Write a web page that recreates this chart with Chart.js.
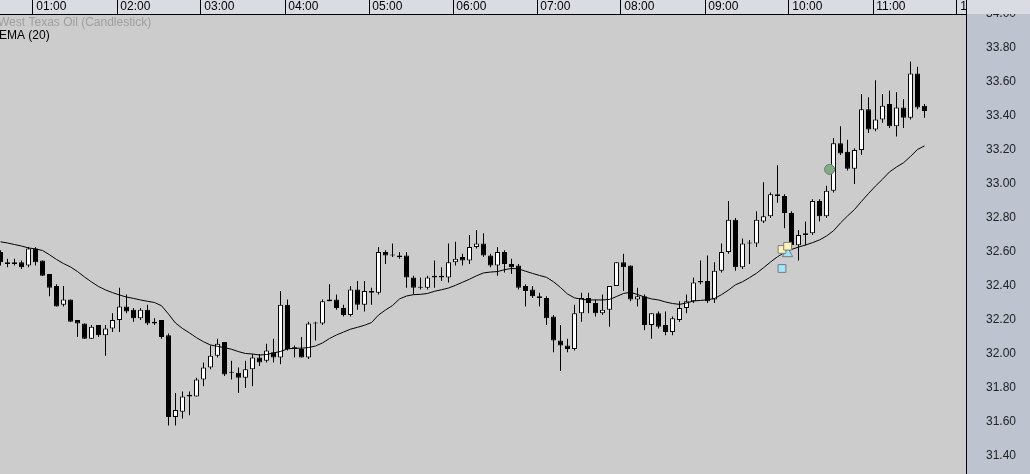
<!DOCTYPE html>
<html lang="en">
<head>
<meta charset="UTF-8">
<title>West Texas Oil (Candlestick)</title>
<style>
  html, body { margin: 0; padding: 0; background: #cccccc; }
  #wrap { width: 1030px; height: 474px; position: relative; }
</style>
</head>
<body>
<div id="wrap"><canvas id="myChart"></canvas></div>

<script src="https://cdn.jsdelivr.net/npm/chart.js"></script>
<script>
// 5 minute bars, first one stamped 00:35
const firstBar = 35;      // minutes after midnight
const barMinutes = 5;

const open = [
  32.60, 32.54, 32.54, 32.54, 32.52, 32.62, 32.55, 32.47, 32.40, 32.29,
  32.32, 32.20, 32.18, 32.09, 32.17, 32.11, 32.15, 32.20, 32.28, 32.26,
  32.21, 32.26, 32.18, 32.20, 32.11, 31.63, 31.66, 31.75, 31.75, 31.85,
  31.92, 31.99, 32.07, 31.89, 31.89, 31.86, 31.91, 31.98, 31.96, 32.01,
  31.98, 32.29, 32.04, 32.03, 31.98, 32.18, 32.18, 32.32, 32.32, 32.27,
  32.23, 32.38, 32.29, 32.37, 32.36, 32.60, 32.58, 32.58, 32.58, 32.45,
  32.39, 32.39, 32.46, 32.46, 32.45, 32.54, 32.57, 32.55, 32.63, 32.65,
  32.58, 32.52, 32.60, 32.53, 32.52, 32.40, 32.38, 32.34, 32.33, 32.22,
  32.08, 32.05, 32.03, 32.24, 32.33, 32.30, 32.24, 32.26, 32.40, 32.54,
  32.52, 32.32, 32.34, 32.17, 32.24, 32.17, 32.13, 32.20, 32.27, 32.31,
  32.43, 32.43, 32.32, 32.49, 32.60, 32.79, 32.51, 32.65, 32.65, 32.78,
  32.81, 32.94, 32.93, 32.83, 32.64, 32.70, 32.71, 32.90, 32.81, 32.96,
  33.24, 33.19, 33.09, 33.20, 33.44, 33.32, 33.38, 33.47, 33.34, 33.45,
  33.39, 33.65, 33.46
];
const high = [
  32.61, 32.56, 32.56, 32.55, 32.63, 32.63, 32.55, 32.47, 32.41, 32.40,
  32.32, 32.20, 32.18, 32.17, 32.17, 32.17, 32.24, 32.39, 32.35, 32.27,
  32.27, 32.29, 32.21, 32.20, 32.12, 31.77, 31.78, 31.78, 31.86, 31.95,
  32.05, 32.09, 32.07, 31.96, 31.92, 31.96, 32.00, 32.00, 32.06, 32.09,
  32.37, 32.32, 32.05, 32.10, 32.19, 32.19, 32.32, 32.41, 32.35, 32.29,
  32.40, 32.43, 32.43, 32.39, 32.63, 32.61, 32.65, 32.60, 32.60, 32.46,
  32.45, 32.46, 32.55, 32.51, 32.65, 32.66, 32.59, 32.70, 32.73, 32.71,
  32.59, 32.63, 32.61, 32.56, 32.53, 32.41, 32.40, 32.36, 32.34, 32.23,
  32.17, 32.09, 32.29, 32.36, 32.36, 32.32, 32.35, 32.40, 32.54, 32.59,
  32.52, 32.39, 32.35, 32.24, 32.25, 32.25, 32.22, 32.31, 32.35, 32.45,
  32.55, 32.58, 32.54, 32.65, 32.90, 32.80, 32.68, 32.67, 32.84, 33.01,
  32.95, 33.11, 32.94, 32.84, 32.73, 32.78, 32.91, 32.91, 32.99, 33.27,
  33.34, 33.26, 33.21, 33.53, 33.51, 33.61, 33.53, 33.55, 33.54, 33.50,
  33.72, 33.69, 33.47
];
const low = [
  32.52, 32.51, 32.52, 32.50, 32.51, 32.52, 32.46, 32.34, 32.28, 32.28,
  32.19, 32.10, 32.09, 32.09, 32.10, 31.99, 32.13, 32.13, 32.24, 32.19,
  32.20, 32.17, 32.17, 32.09, 31.58, 31.58, 31.62, 31.64, 31.75, 31.81,
  31.91, 31.98, 31.87, 31.85, 31.77, 31.80, 31.81, 31.93, 31.95, 31.95,
  31.94, 32.02, 31.98, 31.98, 31.97, 32.08, 32.17, 32.31, 32.26, 32.22,
  32.22, 32.26, 32.25, 32.29, 32.35, 32.53, 32.57, 32.56, 32.39, 32.35,
  32.38, 32.38, 32.39, 32.43, 32.42, 32.52, 32.52, 32.53, 32.62, 32.57,
  32.51, 32.46, 32.48, 32.47, 32.38, 32.28, 32.33, 32.28, 32.17, 32.01,
  31.90, 32.01, 32.02, 32.19, 32.24, 32.22, 32.23, 32.16, 32.40, 32.37,
  32.31, 32.28, 32.14, 32.09, 32.15, 32.11, 32.11, 32.19, 32.24, 32.30,
  32.41, 32.30, 32.30, 32.48, 32.59, 32.49, 32.50, 32.53, 32.63, 32.77,
  32.80, 32.89, 32.74, 32.62, 32.55, 32.64, 32.70, 32.78, 32.80, 32.95,
  33.17, 33.08, 33.00, 33.17, 33.30, 33.31, 33.36, 33.33, 33.28, 33.33,
  33.38, 33.44, 33.39
];
const close = [
  32.54, 32.53, 32.53, 32.51, 32.62, 32.54, 32.46, 32.39, 32.28, 32.32,
  32.19, 32.18, 32.09, 32.16, 32.11, 32.15, 32.20, 32.28, 32.25, 32.21,
  32.26, 32.18, 32.19, 32.10, 31.63, 31.67, 31.75, 31.76, 31.85, 31.92,
  31.99, 32.06, 31.88, 31.89, 31.86, 31.91, 31.98, 31.95, 32.02, 31.98,
  32.29, 32.03, 32.03, 31.98, 32.18, 32.18, 32.31, 32.31, 32.27, 32.23,
  32.38, 32.29, 32.37, 32.36, 32.60, 32.58, 32.58, 32.57, 32.45, 32.39,
  32.39, 32.45, 32.45, 32.45, 32.54, 32.56, 32.55, 32.63, 32.65, 32.58,
  32.52, 32.60, 32.53, 32.51, 32.39, 32.37, 32.34, 32.33, 32.21, 32.08,
  32.05, 32.03, 32.24, 32.33, 32.30, 32.24, 32.26, 32.40, 32.54, 32.51,
  32.32, 32.34, 32.17, 32.24, 32.16, 32.13, 32.21, 32.27, 32.31, 32.42,
  32.42, 32.31, 32.49, 32.60, 32.79, 32.51, 32.65, 32.65, 32.79, 32.81,
  32.94, 32.93, 32.83, 32.64, 32.70, 32.71, 32.90, 32.81, 32.96, 33.24,
  33.18, 33.09, 33.20, 33.44, 33.32, 33.38, 33.46, 33.34, 33.45, 33.39,
  33.65, 33.45, 33.43
];
// EMA (20) as drawn
const ema = [
  32.660, 32.653, 32.644, 32.635, 32.624, 32.618, 32.609, 32.584, 32.556, 32.532,
  32.512, 32.485, 32.453, 32.424, 32.397, 32.377, 32.361, 32.347, 32.335, 32.327,
  32.318, 32.310, 32.303, 32.284, 32.235, 32.182, 32.150, 32.124, 32.096, 32.072,
  32.053, 32.045, 32.037, 32.028, 32.014, 32.003, 32.000, 31.994, 31.997, 32.006,
  32.015, 32.030, 32.034, 32.034, 32.038, 32.047, 32.065, 32.091, 32.112, 32.129,
  32.146, 32.157, 32.169, 32.185, 32.229, 32.259, 32.285, 32.324, 32.341, 32.349,
  32.351, 32.356, 32.369, 32.378, 32.388, 32.404, 32.422, 32.440, 32.460, 32.477,
  32.482, 32.485, 32.496, 32.503, 32.501, 32.487, 32.474, 32.462, 32.451, 32.425,
  32.391, 32.353, 32.330, 32.322, 32.318, 32.318, 32.318, 32.321, 32.338, 32.356,
  32.363, 32.350, 32.335, 32.324, 32.318, 32.306, 32.297, 32.292, 32.300, 32.312,
  32.315, 32.319, 32.327, 32.349, 32.376, 32.407, 32.425, 32.449, 32.475, 32.507,
  32.541, 32.572, 32.597, 32.615, 32.629, 32.641, 32.655, 32.671, 32.694, 32.725,
  32.771, 32.812, 32.850, 32.898, 32.944, 32.988, 33.028, 33.071, 33.100, 33.125,
  33.162, 33.203, 33.224
];

// trade markers: [minute, price]
const buyMarks  = [[595, 32.615], [599, 32.634]];
const exitTri   = [[599, 32.59]];
const stopMarks = [[595, 32.503]];
const signalDot = [[629, 33.086]];

const hourTicks  = [60, 120, 180, 240, 300, 360, 420, 480, 540, 600, 660, 720];
const priceTicks = [31.40, 31.60, 31.80, 32.00, 32.20, 32.40, 32.60, 32.80, 33.00, 33.20, 33.40, 33.60, 33.80, 34.00];

// view window: 7px per 5 minutes, 01:00 sits 33px in
const xMin = 60 - 33 * 5 / 7;
const xMax = xMin + 966 * 5 / 7;
const yMax = 34.00;
const yMin = yMax - 460 / 170;
const bodyOffset = 2.5 * 5 / 7;   // body drawn just right of its time stamp

const stripColour = '#d9dce3';
const plotColour  = '#cccccc';
const axisColour  = '#bdc3cf';

Chart.defaults.font.family = '"Liberation Sans", Arial, sans-serif';
Chart.defaults.font.size = 12;

const times = open.map((_, i) => firstBar + i * barMinutes);
const pad = n => (n < 10 ? '0' : '') + n;

const bodies = times.map((t, i) => ({ x: t + bodyOffset, y: [open[i], close[i]] }));
const wicks  = times.map((t, i) => ({ x: t + bodyOffset, y: [low[i], high[i]] }));
const emaPts = times.map((t, i) => ({ x: t + bodyOffset, y: ema[i] }));
const pts = arr => arr.map(p => ({ x: p[0], y: p[1] }));

// keep the axes at fixed sizes, no label overhang padding
const fixSize = (w, h) => s => {
  if (w) s.width = w;
  if (h) s.height = h;
  s.paddingLeft = s.paddingRight = s.paddingTop = s.paddingBottom = 0;
};

const backdrop = {
  id: 'backdrop',
  beforeDraw(chart) {
    const { ctx, chartArea: a, width, height } = chart;
    ctx.save();
    ctx.fillStyle = stripColour;
    ctx.fillRect(0, 0, width, a.top);
    ctx.fillStyle = plotColour;
    ctx.fillRect(a.left, a.top, a.right - a.left, height - a.top);
    ctx.fillStyle = axisColour;
    ctx.fillRect(a.right, a.top, width - a.right, height - a.top);
    ctx.restore();
  },
  afterDraw(chart) {
    const { ctx, chartArea: a, width } = chart;
    ctx.save();
    // corner above the price scale hides the clipped labels
    ctx.fillStyle = stripColour;
    ctx.fillRect(a.right, 0, width - a.right, a.top);
    ctx.fillStyle = '#000';
    ctx.fillRect(Math.round(a.right), 0, 1, a.top);
    // series captions
    ctx.font = '12px "Liberation Sans", Arial, sans-serif';
    ctx.textBaseline = 'alphabetic';
    ctx.fillStyle = '#a0a0a0';
    ctx.fillText('West Texas Oil (Candlestick)', -2, 26);
    ctx.fillStyle = '#000';
    ctx.fillText('EMA (20)', -1, 39);
    ctx.restore();
  }
};

const ctx = document.getElementById('myChart').getContext('2d');
new Chart(ctx, {
  type: 'bar',
  data: {
    datasets: [
      {
        type: 'scatter', label: 'entry', data: pts(buyMarks), order: 0,
        pointStyle: 'rect', pointRadius: 5.5, backgroundColor: '#fbf4b4', borderColor: '#7d7f86', borderWidth: 1
      },
      {
        type: 'scatter', label: 'exit', data: pts(exitTri), order: 0,
        pointStyle: 'triangle', pointRadius: 6, backgroundColor: '#9fe3f7', borderColor: '#6e7b8a', borderWidth: 1
      },
      {
        type: 'scatter', label: 'stop', data: pts(stopMarks), order: 0,
        pointStyle: 'rect', pointRadius: 5.5, backgroundColor: '#a4e6fa', borderColor: '#6e7b8a', borderWidth: 1
      },
      {
        type: 'scatter', label: 'signal', data: pts(signalDot), order: 0,
        pointStyle: 'circle', pointRadius: 5, backgroundColor: '#80ae80', borderColor: '#6a7880', borderWidth: 1
      },
      {
        type: 'line', label: 'EMA (20)', data: emaPts, order: 1,
        borderColor: '#000', borderWidth: 1, pointRadius: 0, tension: 0, fill: false
      },
      {
        label: 'body', data: bodies, order: 2, grouped: false,
        barThickness: 5, minBarLength: 1, inflateAmount: 0, borderSkipped: false,
        backgroundColor: open.map((o, i) => close[i] > o ? '#ffffff' : '#000000'),
        borderColor: '#000', borderWidth: 1
      },
      {
        label: 'wick', data: wicks, order: 3, grouped: false,
        barThickness: 1, inflateAmount: 0, borderSkipped: false,
        backgroundColor: '#000', borderWidth: 0
      }
    ]
  },
  options: {
    responsive: true,
    maintainAspectRatio: false,
    animation: false,
    events: [],
    layout: { padding: 0, autoPadding: false },
    plugins: { legend: { display: false }, tooltip: { enabled: false } },
    scales: {
      x: {
        type: 'linear', position: 'top', min: xMin, max: xMax, offset: false,
        afterBuildTicks: s => { s.ticks = hourTicks.map(v => ({ value: v })); },
        afterFit: fixSize(0, 14),
        grid: { display: true, drawOnChartArea: false, drawTicks: true, tickLength: 14, color: '#000', offset: false },
        border: { display: true, color: '#000' },
        ticks: {
          align: 'start', padding: -14, color: '#000', autoSkip: false, maxRotation: 0,
          callback: v => ' ' + pad(Math.floor(v / 60)) + ':' + pad(v % 60)
        }
      },
      y: {
        type: 'linear', position: 'right', min: yMin, max: yMax, beginAtZero: false,
        afterBuildTicks: s => { s.ticks = priceTicks.map(v => ({ value: v })); },
        afterFit: fixSize(64, 0),
        grid: { display: false, drawTicks: false },
        border: { display: true, color: '#000' },
        ticks: { padding: 20, color: '#222', autoSkip: false, callback: v => v.toFixed(2) }
      }
    }
  },
  plugins: [backdrop]
});
</script>
</body>
</html>
